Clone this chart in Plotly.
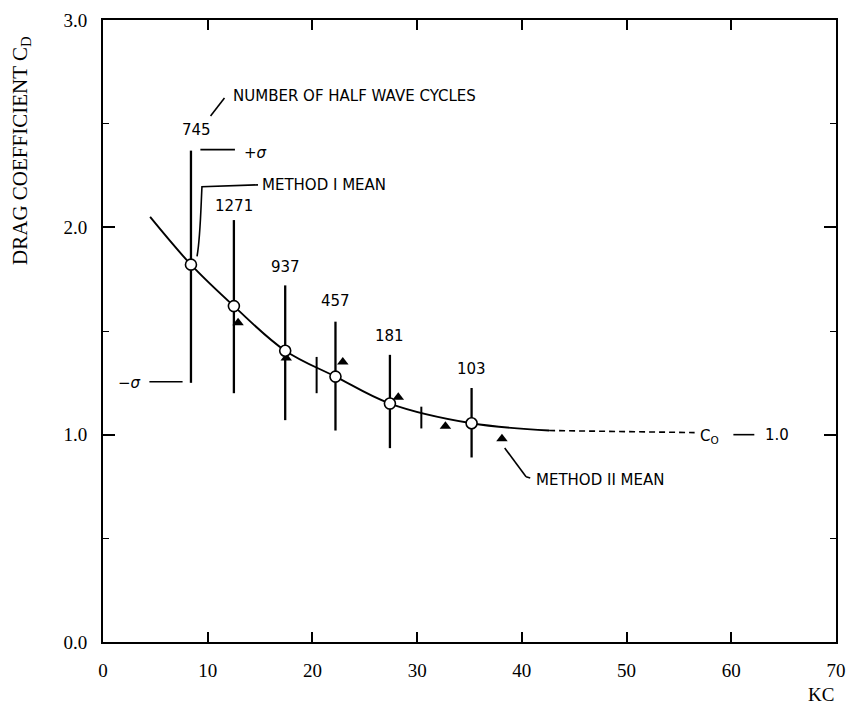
import plotly.graph_objects as go

# ---- data ----
kc_m1 = [8.4, 12.5, 17.4, 22.2, 27.4, 35.2]            # Method I mean positions
cd_m1 = [1.82, 1.62, 1.405, 1.28, 1.15, 1.055]
sigma_top = [2.37, 2.035, 1.72, 1.545, 1.385, 1.225]   # +sigma
sigma_bot = [1.25, 1.20, 1.07, 1.02, 0.935, 0.89]      # -sigma
n_cycles = ["745", "1271", "937", "457", "181", "103"]

kc_m2 = [12.9, 17.5, 22.9, 28.2, 32.7, 38.1]           # Method II mean
cd_m2 = [1.54, 1.37, 1.35, 1.18, 1.04, 0.98]

kc_short = [20.4, 30.4]                                # short scatter bars
short_top = [1.375, 1.135]
short_bot = [1.20, 1.03]

kc_fit = [4.5, 8.4, 12.5, 17.4, 22.2, 27.4, 35.2, 42.6]
cd_fit = [2.05, 1.82, 1.62, 1.405, 1.28, 1.15, 1.055, 1.02]
kc_dash = [42.6, 56.5]
cd_dash = [1.02, 1.01]

x_ticks = [0, 10, 20, 30, 40, 50, 60, 70]
y_ticks = [0.0, 1.0, 2.0, 3.0]

SANS = "DejaVu Sans"
SERIF = "Liberation Serif"

fig = go.Figure()

fig.add_trace(go.Scatter(x=kc_fit, y=cd_fit, mode="lines",
                         line=dict(color="black", width=1.9, shape="spline"),
                         hoverinfo="skip"))
fig.add_trace(go.Scatter(x=kc_dash, y=cd_dash, mode="lines",
                         line=dict(color="black", width=1.6, dash="6px,4px"),
                         hoverinfo="skip"))

# sigma bars
fig.add_trace(go.Scatter(
    x=kc_m1, y=cd_m1, mode="markers", marker=dict(size=1, opacity=0),
    error_y=dict(type="data", symmetric=False,
                 array=[t - c for t, c in zip(sigma_top, cd_m1)],
                 arrayminus=[c - b for c, b in zip(cd_m1, sigma_bot)],
                 width=0, thickness=2.3, color="black"),
    hoverinfo="skip"))
fig.add_trace(go.Scatter(
    x=kc_short, y=short_bot, mode="markers", marker=dict(size=1, opacity=0),
    error_y=dict(type="data", symmetric=False,
                 array=[t - b for t, b in zip(short_top, short_bot)],
                 arrayminus=[0, 0], width=0, thickness=2, color="black"),
    hoverinfo="skip"))

# Method II mean
fig.add_trace(go.Scatter(x=kc_m2, y=cd_m2, mode="markers",
                         marker=dict(symbol="triangle-up", size=10, color="black"),
                         hoverinfo="skip"))
# Method I mean
fig.add_trace(go.Scatter(x=kc_m1, y=cd_m1, mode="markers",
                         marker=dict(symbol="circle", size=11, color="white",
                                     line=dict(color="black", width=1.6)),
                         hoverinfo="skip"))

ann = []
# numbers of half wave cycles above bars
label_y = [2.47, 2.103, 1.809, 1.645, 1.476, 1.317]
label_x = [8.9] + kc_m1[1:]
for lx, ly, t in zip(label_x, label_y, n_cycles):
    ann.append(dict(x=lx, y=ly, text=t, showarrow=False, xanchor="center",
                    yanchor="middle", font=dict(family=SANS, size=15, color="black")))

def txt(x, y, t, anchor="left", size=15, family=SANS):
    ann.append(dict(x=x, y=y, text=t, showarrow=False, xanchor=anchor,
                    yanchor="middle", font=dict(family=family, size=size, color="black")))

txt(12.2, 2.634, "NUMBER OF HALF WAVE CYCLES")
txt(13.3, 2.36, "+<i>σ</i>")
txt(15.0, 2.205, "METHOD I MEAN")
txt(1.2, 1.25, "−<i>σ</i>")
txt(41.2, 0.78, "METHOD II MEAN")
txt(56.8, 0.99, "C<sub>O</sub>")
txt(63.0, 1.0, "1.0")

ann.append(dict(x=-0.112, y=0.791, xref="paper", yref="paper",
                text="DRAG COEFFICIENT C<sub>D</sub>", textangle=-90, showarrow=False,
                xanchor="center", yanchor="middle",
                font=dict(family=SERIF, size=21, color="black")))
ann.append(dict(x=1.0, y=-0.065, xref="paper", yref="paper", text="KC",
                showarrow=False, xanchor="right", yanchor="top",
                font=dict(family=SERIF, size=19, color="black")))

lw = dict(color="black", width=1.6)
shapes = [
    dict(type="line", x0=11.6, y0=2.624, x1=10.27, y1=2.537, line=lw),
    dict(type="line", x0=9.3, y0=2.375, x1=12.6, y1=2.375, line=lw),
    dict(type="path", path="M 8.98 1.86 C 9.3 1.95, 9.35 2.1, 9.45 2.196 L 14.8 2.205", line=lw),
    dict(type="line", x0=4.43, y0=1.255, x1=7.6, y1=1.255, line=lw),
    dict(type="line", x0=38.36, y0=0.936, x1=40.4, y1=0.797, line=lw),
    dict(type="line", x0=40.4, y0=0.797, x1=40.8, y1=0.791, line=lw),
    dict(type="line", x0=60.2, y0=1.0, x1=62.2, y1=1.0, line=lw),
]

fig.update_layout(
    width=856, height=705,
    margin=dict(l=103, r=10, t=20, b=63),
    paper_bgcolor="white", plot_bgcolor="white",
    showlegend=False,
    annotations=ann, shapes=shapes,
    xaxis=dict(range=[0, 70], tickvals=x_ticks, ticktext=[str(v) for v in x_ticks],
               showline=True, linecolor="black", linewidth=2, mirror="ticks",
               ticks="inside", ticklen=10, tickwidth=1.5, tickcolor="black",
               showgrid=False, zeroline=False, ticklabelstandoff=10,
               tickfont=dict(family=SERIF, size=19, color="black")),
    yaxis=dict(range=[0, 3], tickvals=y_ticks, ticktext=[f"{v:.1f}" for v in y_ticks],
               showline=True, linecolor="black", linewidth=2, mirror="ticks",
               ticks="inside", ticklen=12, tickwidth=1.5, tickcolor="black",
               showgrid=False, zeroline=False, ticklabelstandoff=10,
               minor=dict(dtick=0.5, ticks="inside", ticklen=6, tickwidth=1.3,
                          tickcolor="black", showgrid=False),
               tickfont=dict(family=SERIF, size=19, color="black")),
)

fig.write_html("out.html")
